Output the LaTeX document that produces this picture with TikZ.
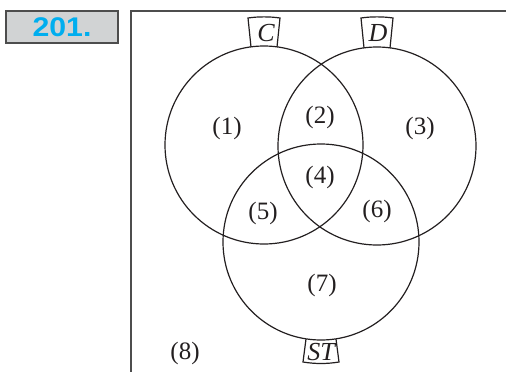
\documentclass[tikz,border=0pt]{standalone}
\usepackage{fontspec}
\setmainfont{Liberation Serif}
\setsansfont{Liberation Sans}
\usetikzlibrary{positioning}
\definecolor{ink}{HTML}{231F20}
\definecolor{frame}{HTML}{4D4D4D}
\definecolor{cyanblue}{HTML}{00AEEF}
\definecolor{badge}{HTML}{D1D3D4}

\begin{document}
\begin{tikzpicture}[x=1pt,y=-1pt,set/.style={draw=ink,line width=1.2pt},region/.style={font=\fontsize{25}{29}\selectfont,text=ink,inner sep=0pt},tag/.style={font=\fontsize{26}{30}\selectfont\itshape,text=ink,inner sep=0pt}]
\useasboundingbox (0,0) rectangle (506,372);
% question number
\node[draw=frame,line width=1.2pt,fill=badge,minimum width=112pt,minimum height=32pt,inner sep=0pt,font=\sffamily\bfseries\fontsize{27}{30}\selectfont,text=cyanblue] (num) at (62,27) {\scalebox{1.12}[1]{201.}};
% universe
\draw[frame,line width=1.4pt] (131,380) -- (131,11) -- (510,11);
% the three sets
\draw[set] (264,145) circle[radius=99pt];
\draw[set] (377,146) circle[radius=99pt];
\draw[set] (321,242) circle[radius=98pt];
% name tabs
\draw[set] (251,47) -- (248,18) .. controls (258,16.5) and (270,16.5) .. (280,18) -- (277,47);
\draw[set] (364,48) -- (361,18) .. controls (371,16.5) and (383,16.5) .. (393,18) -- (390,48);
\draw[set] (306,339) -- (303,362) .. controls (315,364) and (327,364) .. (339,362) -- (336,339);
\node[tag] (labC) at (266,33) {C};
\node[tag] (labD) at (378,33) {D};
\node[tag] (labST) at (321,352) {ST};
% regions
\node[region] (r1) at (227,128) {(1)};
\node[region] (r2) at (320,117) {(2)};
\node[region] (r3) at (420,128) {(3)};
\node[region] (r4) at (320,177) {(4)};
\node[region] (r5) at (263,213) {(5)};
\node[region] (r6) at (377,211) {(6)};
\node[region] (r7) at (322,285) {(7)};
\node[region] (r8) at (185,353) {(8)};
\end{tikzpicture}
\end{document}
